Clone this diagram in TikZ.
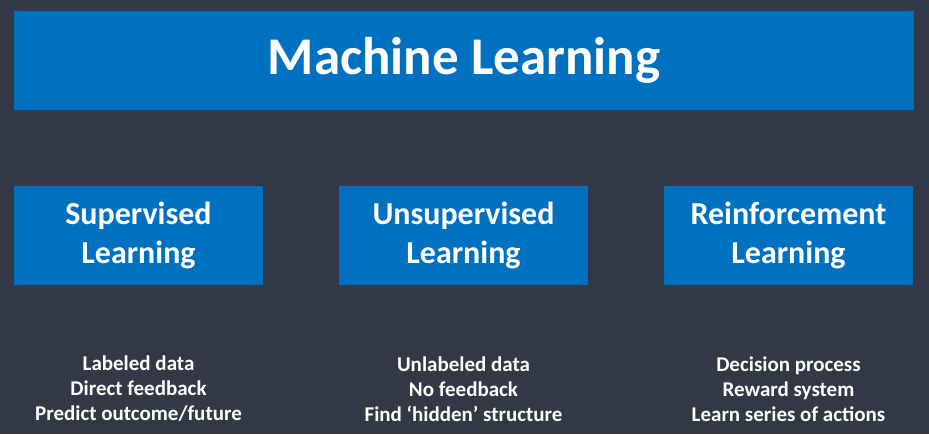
\documentclass[tikz,border=0pt]{standalone}
\usepackage{fontspec}
\setmainfont{Carlito}
\usepackage{xcolor}
\usetikzlibrary{positioning}
\definecolor{bgdark}{HTML}{323845}
\definecolor{mlblue}{HTML}{0070C0}

\begin{document}
\begin{tikzpicture}[x=1pt,y=-1pt,
    bluebox/.style={fill=mlblue,text=white,font=\bfseries,align=center,inner sep=0pt},
    catbox/.style={bluebox,minimum width=249pt,minimum height=99pt,font=\fontsize{32}{39.5}\selectfont\bfseries},
    notes/.style={text=white,align=center,font=\fontsize{21}{25}\selectfont\bfseries}]
  \fill[bgdark] (0,0) rectangle (929,434);
  \useasboundingbox (0,0) rectangle (929,434);
  % top box
  \node[bluebox,minimum width=900pt,minimum height=99pt,font=\fontsize{53}{60}\selectfont\bfseries]
    (ml) at (464,60.5) {Machine Learning};
  % three kinds
  \node[catbox] (sup) at (138.5,235.5) {Supervised\\Learning};
  \node[catbox] (unsup) at (463.5,235.5) {Unsupervised\\Learning};
  \node[catbox] (reinf) at (788.5,235.5) {Reinforcement\\Learning};
  % notes
  \node[notes] (supnotes) at (138.5,389) {Labeled data\\Direct feedback\\Predict outcome/future};
  \node[notes] (unsupnotes) at (463.5,389) {Unlabeled data\\No feedback\\Find ‘hidden’ structure};
  \node[notes] (reinfnotes) at (788.5,389) {Decision process\\Reward system\\Learn series of actions};
\end{tikzpicture}
\end{document}
